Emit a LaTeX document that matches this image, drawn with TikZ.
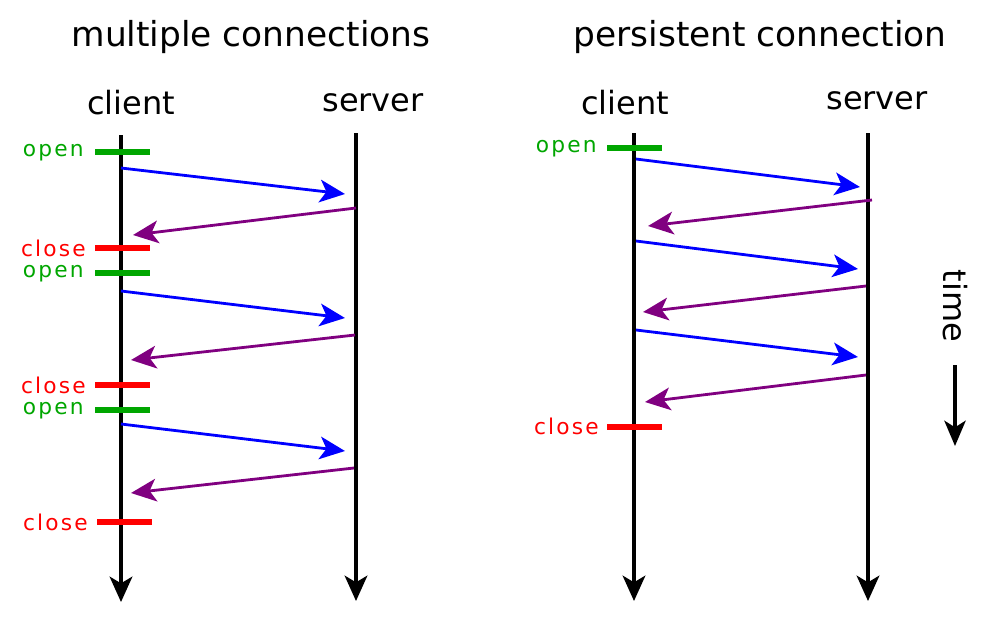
\documentclass[tikz,border=0pt]{standalone}
\usepackage{fontspec}
\setmainfont{DejaVu Sans}
\newfontfamily\lblfont[LetterSpace=10]{DejaVu Sans}
\usetikzlibrary{arrows.meta}
\definecolor{okgreen}{RGB}{0,166,0}
\definecolor{msgblue}{RGB}{0,0,255}
\definecolor{msgpurple}{RGB}{128,0,128}
\tikzset{
  life/.style={draw=black,line width=2.4pt,-{Stealth[length=19pt,width=17pt,inset=5pt]}},
  req/.style={draw=msgblue,line width=2.1pt,-{Stealth[length=19pt,width=17pt,inset=5pt]}},
  resp/.style={draw=msgpurple,line width=2.1pt,-{Stealth[length=19pt,width=17pt,inset=5pt]}},
  openbar/.style={draw=okgreen,line width=4.5pt},
  closebar/.style={draw=red,line width=4.5pt},
  title/.style={font=\fontsize{25.8pt}{30pt}\selectfont,inner sep=0pt},
  head/.style={font=\fontsize{24pt}{28pt}\selectfont,inner sep=0pt},
  olbl/.style={font=\lblfont\fontsize{16.3pt}{19pt}\selectfont,text=okgreen,inner sep=0pt},
  clbl/.style={font=\lblfont\fontsize{16.3pt}{19pt}\selectfont,text=red,inner sep=0pt},
}
\begin{document}
\begin{tikzpicture}[x=0.75pt,y=-0.75pt]
\useasboundingbox (0,0) rectangle (1000,622);
% titles
\node[title] (t1) at (251,37) {multiple connections};
\node[title] (t2) at (760,37) {persistent connection};
\node[head] (c1) at (131,103) {client};
\node[head] (s1) at (373,103) {server};
\node[head] (c2) at (625,103) {client};
\node[head] (s2) at (877,101) {server};
% lifelines
\coordinate (c1top) at (121,135); \coordinate (c1bot) at (121,602);
\coordinate (s1top) at (356,133); \coordinate (s1bot) at (356,601);
\coordinate (c2top) at (634,133); \coordinate (c2bot) at (634,601);
\coordinate (s2top) at (868,133); \coordinate (s2bot) at (868,601);
\draw[life] (c1top) -- (c1bot);
\draw[life] (s1top) -- (s1bot);
\draw[life] (c2top) -- (c2bot);
\draw[life] (s2top) -- (s2bot);
% left bars and labels
\coordinate (ob1a) at (95,152); \coordinate (ob1b) at (150,152);
\coordinate (cb1a) at (95,248); \coordinate (cb1b) at (150,248);
\coordinate (ob2a) at (95,273); \coordinate (ob2b) at (150,273);
\coordinate (cb2a) at (95,385); \coordinate (cb2b) at (150,385);
\coordinate (ob3a) at (95,410); \coordinate (ob3b) at (150,410);
\coordinate (cb3a) at (97,522); \coordinate (cb3b) at (152,522);
\draw[openbar] (ob1a) -- (ob1b);
\draw[closebar] (cb1a) -- (cb1b);
\draw[openbar] (ob2a) -- (ob2b);
\draw[closebar] (cb2a) -- (cb2b);
\draw[openbar] (ob3a) -- (ob3b);
\draw[closebar] (cb3a) -- (cb3b);
\node[olbl,anchor=east] (lo1) at (84,153) {open};
\node[clbl,anchor=east] (lc1) at (86,248) {close};
\node[olbl,anchor=east] (lo2) at (84,274) {open};
\node[clbl,anchor=east] (lc2) at (86,385) {close};
\node[olbl,anchor=east] (lo3) at (84,411) {open};
\node[clbl,anchor=east] (lc3) at (88,522) {close};
% left messages
\coordinate (a1) at (121,168); \coordinate (b1) at (345,194);
\coordinate (a2) at (356,208); \coordinate (b2) at (133,235);
\coordinate (a3) at (121,291); \coordinate (b3) at (345,318);
\coordinate (a4) at (355,335); \coordinate (b4) at (131,360);
\coordinate (a5) at (121,424); \coordinate (b5) at (345,451);
\coordinate (a6) at (354,468); \coordinate (b6) at (131,493);
\draw[req] (a1) -- (b1);
\draw[resp] (a2) -- (b2);
\draw[req] (a3) -- (b3);
\draw[resp] (a4) -- (b4);
\draw[req] (a5) -- (b5);
\draw[resp] (a6) -- (b6);
% right bars and labels
\coordinate (ob4a) at (607,148); \coordinate (ob4b) at (662,148);
\coordinate (cb4a) at (607,427); \coordinate (cb4b) at (662,427);
\draw[openbar] (ob4a) -- (ob4b);
\draw[closebar] (cb4a) -- (cb4b);
\node[olbl,anchor=east] (lo4) at (597,149) {open};
\node[clbl,anchor=east] (lc4) at (599,426) {close};
% right messages
\coordinate (d1) at (636,159); \coordinate (e1) at (860,187);
\coordinate (d2) at (872,200); \coordinate (e2) at (648,226);
\coordinate (d3) at (636,241); \coordinate (e3) at (858,269);
\coordinate (d4) at (866,286); \coordinate (e4) at (643,312);
\coordinate (d5) at (636,330); \coordinate (e5) at (858,357);
\coordinate (d6) at (866,375); \coordinate (e6) at (645,402);
\draw[req] (d1) -- (e1);
\draw[resp] (d2) -- (e2);
\draw[req] (d3) -- (e3);
\draw[resp] (d4) -- (e4);
\draw[req] (d5) -- (e5);
\draw[resp] (d6) -- (e6);
% time
\node[head,rotate=-90] (time) at (955,306) {time};
\coordinate (tt) at (955,365); \coordinate (tb) at (955,446);
\draw[draw=black,line width=2.4pt,-{Stealth[length=19pt,width=16pt,inset=5pt]}] (tt) -- (tb);
\end{tikzpicture}
\end{document}
